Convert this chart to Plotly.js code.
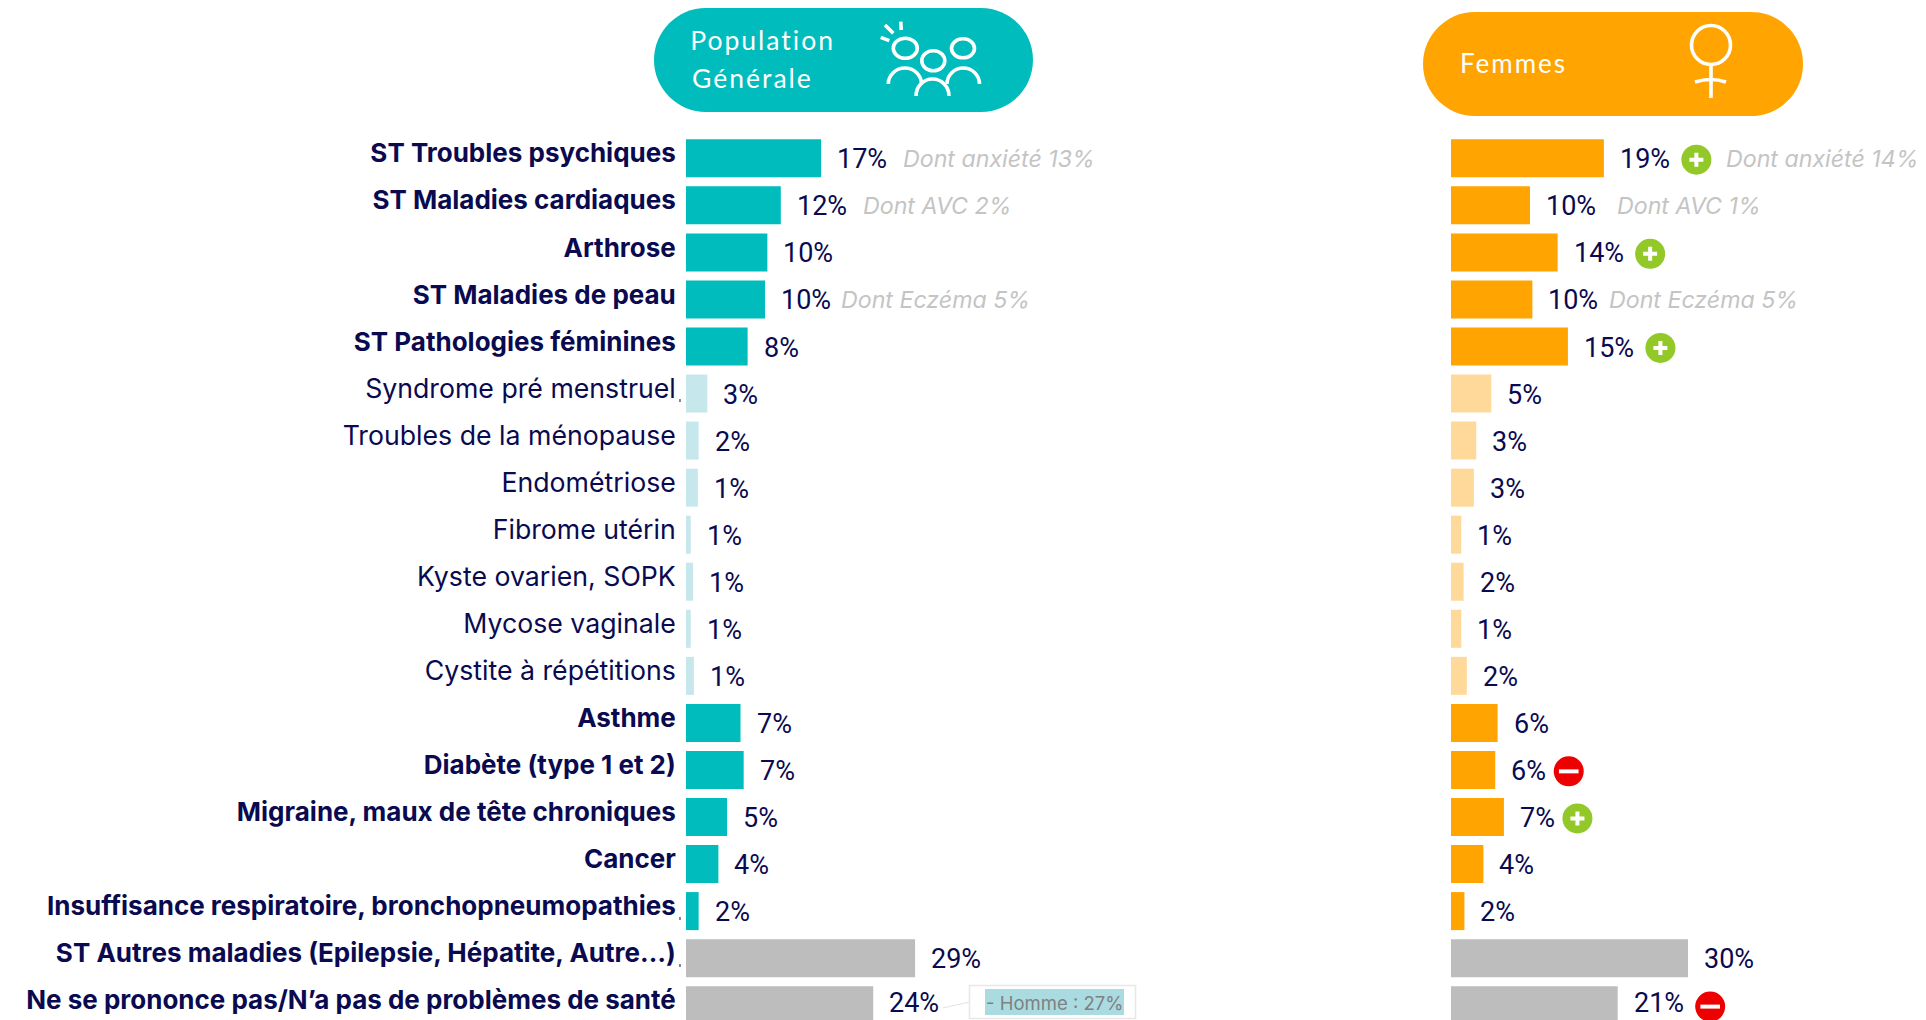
<!DOCTYPE html>
<html><head><meta charset="utf-8">
<script src="https://cdn.plot.ly/plotly-3.0.1.min.js"></script>
<style>html,body{margin:0;padding:0;background:#fff;overflow:hidden}#c{width:1926px;height:1020px}</style>
</head><body><div id="c"></div>
<script>
const categories = ["ST Troubles psychiques","ST Maladies cardiaques","Arthrose","ST Maladies de peau","ST Pathologies féminines","Syndrome pré menstruel","Troubles de la ménopause","Endométriose","Fibrome utérin","Kyste ovarien, SOPK","Mycose vaginale","Cystite à répétitions","Asthme","Diabète (type 1 et 2)","Migraine, maux de tête chroniques","Cancer","Insuffisance respiratoire, bronchopneumopathies","ST Autres maladies (Epilepsie, Hépatite, Autre…)","Ne se prononce pas/N’a pas de problèmes de santé"];
const groups = ["main","main","main","main","main","sub","sub","sub","sub","sub","sub","sub","main","main","main","main","main","other","other"];
const popValues = [17.1,12.0,10.3,10.0,7.8,2.7,1.6,1.5,0.6,0.9,0.6,1.0,6.9,7.3,5.2,4.1,1.6,29.0,23.7];
const popLabels = ["17%","12%","10%","10%","8%","3%","2%","1%","1%","1%","1%","1%","7%","7%","5%","4%","2%","29%","24%"];
const femValues = [19.35,10.0,13.5,10.3,14.8,5.1,3.2,2.9,1.3,1.6,1.3,2.0,5.9,5.6,6.7,4.1,1.7,30.0,21.1];
const femLabels = ["19%","10%","14%","10%","15%","5%","3%","3%","1%","2%","1%","2%","6%","6%","7%","4%","2%","30%","21%"];
const femBadges = ["+","","+","","+","","","","","","","","","-","+","","","","-"];
const popNotes = {0:"Dont anxiété 13%",1:"Dont AVC 2%",3:"Dont Eczéma 5%"};
const femNotes = {0:"Dont anxiété 14%",1:"Dont AVC 1%",3:"Dont Eczéma 5%"};
const headerPop = ["Population","Générale"];
const headerFem = "Femmes";
const homme = "- Homme : 27%";

const NAVY="#0a0a50", TEAL="#00bcbd", ORANGE="#ffa400", GREY="#bdbdbd";
const popColors={main:TEAL,sub:"#c6e7ec",other:GREY};
const femColors={main:ORANGE,sub:"#ffd999",other:GREY};
const FONT="Inter, sans-serif";
const W=1926,H=1020,SCALE=7.9,ROW=47.05,Y0=158.3;
const X1=686,X2=1451;
const idx=categories.map((_,i)=>i);
const px=x=>x/W, py=y=>1-y/H;
function P(cmds){return cmds.map(c=>c[0]+c.slice(1).map((v,i)=>i%2==0?px(v).toFixed(5)+",":py(v).toFixed(5)+" ").join("")).join("");}
function ell(cx,cy,rx,ry){const k=.5523;return P([["M",cx-rx,cy],["C",cx-rx,cy-k*ry,cx-k*rx,cy-ry,cx,cy-ry],["C",cx+k*rx,cy-ry,cx+rx,cy-k*ry,cx+rx,cy],["C",cx+rx,cy+k*ry,cx+k*rx,cy+ry,cx,cy+ry],["C",cx-k*rx,cy+ry,cx-rx,cy+k*ry,cx-rx,cy]])+"Z";}
function pill(x0,y0,x1,y1){const r=(y1-y0)/2,k=.5523*r,m=(y0+y1)/2;return P([["M",x0+r,y0],["L",x1-r,y0],["C",x1-r+k,y0,x1,m-k,x1,m],["C",x1,m+k,x1-r+k,y1,x1-r,y1],["L",x0+r,y1],["C",x0+r-k,y1,x0,m+k,x0,m],["C",x0,m-k,x0+r-k,y0,x0+r,y0]])+"Z";}
const fillShape=(path,color)=>({type:"path",xref:"paper",yref:"paper",path,fillcolor:color,line:{width:0}});
const stroke=(path,w=3.6,color="#fff")=>({type:"path",xref:"paper",yref:"paper",path,fillcolor:"rgba(0,0,0,0)",line:{color,width:w}});
const seg=(a,b,c,d,w,col)=>stroke(P([["M",a,b],["L",c,d]]),w,col);
const arc=(a,b,cx,cy,c,d)=>stroke(P([["M",a,b],["Q",cx,cy,c,d]]));
const arch=(x0,x1,yb,yt)=>{const m=(x0+x1)/2,k=.5523;return stroke(P([["M",x0,yb],["C",x0,yb-(yb-yt)*k,m-(m-x0)*k,yt,m,yt],["C",m+(x1-m)*k,yt,x1,yb-(yb-yt)*k,x1,yb]]));};

const shapes=[
 fillShape(pill(654,8,1033,112),TEAL),
 fillShape(pill(1423,12,1803,116),ORANGE),
 stroke(ell(905.3,48.3,12,10)),stroke(ell(933.3,60.7,11.5,10)),stroke(ell(963,48.3,11.5,9.5)),
 arch(888.3,921.5,84,68),arch(916,949,96,79),arch(947,979.5,84,68),
 seg(900.7,21.7,901.3,30),seg(885,25,893.3,33.3),seg(880.7,37.3,889.3,40.7),
 stroke(ell(1711,45,19.5,19.5)),seg(1711,64,1711,98),arc(1695,82,1711,77,1726,82),
 fillShape(P([["M",969,985],["L",1136,985],["L",1136,1019],["L",969,1019]])+"Z","#ffffff"),
 stroke(P([["M",969.5,985.5],["L",1135.5,985.5],["L",1135.5,1018.5],["L",969.5,1018.5]])+"Z",1.6,"#e8e8e8"),
 fillShape(P([["M",985,989],["L",1124,989],["L",1124,1015],["L",985,1015]])+"Z","#a9dbe0"),
 seg(943,1008,969,1002,1.2,"#e4e4e4"),
 seg(680,399,680,402,1,NAVY),seg(680,917,680,920,1,NAVY),seg(680,964,680,967,1,NAVY)
];

const annotations=[];
const lastRow=categories.length-1;
function valueLabels(values,labels,xr){values.forEach((v,i)=>annotations.push({x:v,y:i,xref:xr,yref:"y",text:labels[i],showarrow:false,xanchor:"left",yanchor:"middle",xshift:14,yshift:i===lastRow?2:-1,font:{family:"Roboto, sans-serif",size:27,color:NAVY}}));}
valueLabels(popValues,popLabels,"x");
valueLabels(femValues,femLabels,"x2");
const NOTE_OFF={x:{0:80,1:80,3:74},x2:{0:120,1:85,3:75}};
function notes(map,values,xr){Object.keys(map).forEach(k=>annotations.push({x:values[k],y:+k,xref:xr,yref:"y",text:"<i>"+map[k]+"</i>",showarrow:false,xanchor:"left",yanchor:"middle",xshift:NOTE_OFF[xr][k],yshift:-1,font:{family:FONT,size:23.2,color:"#c4c4c4"}}));}
notes(popNotes,popValues,"x");
notes(femNotes,femValues,"x2");
const head=(t,x,y,s)=>annotations.push({xref:"paper",yref:"paper",x:px(x),y:py(y),text:t,showarrow:false,xanchor:"left",yanchor:"middle",font:{family:"Lato, sans-serif",size:s,weight:400,color:"#fff"}});
head(headerPop[0],698,40,26.5);head(headerPop[1],698,78,26.5);head(headerFem,1464,63,26);
annotations.push({xref:"paper",yref:"paper",x:px(1054.5),y:py(1002.5),text:homme,showarrow:false,xanchor:"center",yanchor:"middle",font:{family:FONT,size:18.5,color:"#808080"}});

const bar=(vals,colors,xa,name)=>({type:"bar",orientation:"h",x:vals,y:idx,xaxis:xa,yaxis:"y",name,width:0.808,marker:{color:groups.map(g=>colors[g]),line:{width:0}},hoverinfo:"skip"});
const badgeOff=i=>femLabels[i].length==3?92.5:73.5;
const bi=s=>idx.filter(i=>femBadges[i]===s);
const bx=s=>bi(s).map(i=>femValues[i]+badgeOff(i)/SCALE);
const by=s=>bi(s).map(i=>i+0.03);
const mk=(s,symbol,size,color,line)=>({type:"scatter",mode:"markers",x:bx(s),y:by(s),xaxis:"x2",yaxis:"y",cliponaxis:false,hoverinfo:"skip",marker:{symbol,size,color,line}});
const data=[
 bar(popValues,popColors,"x","Population Générale"),
 bar(femValues,femColors,"x2","Femmes"),
 mk("+","circle",30,"#93c829",{width:0}),
 mk("-","circle",30,"#ee0000",{width:0}),
 mk("+","cross-thin",10,"#fff",{width:4,color:"#fff"}),
 mk("-","line-ew",14,"#fff",{width:4,color:"#fff"})
];
const xbase={showgrid:false,zeroline:false,showticklabels:false,ticks:"",showline:false,fixedrange:true,anchor:"y"};
const layout={
 width:W,height:H,margin:{l:0,r:0,t:0,b:0,pad:0},paper_bgcolor:"#fff",plot_bgcolor:"rgba(0,0,0,0)",showlegend:false,barmode:"overlay",
 font:{family:FONT,color:NAVY},
 xaxis:{...xbase,domain:[X1/W,1400/W],range:[0,(1400-X1)/SCALE]},
 xaxis2:{...xbase,domain:[X2/W,1],range:[0,(W-X2)/SCALE]},
 yaxis:{domain:[0,1],range:[(H-Y0)/ROW,-Y0/ROW],tickmode:"array",tickvals:idx,
   ticktext:categories.map((c,i)=>groups[i]==="sub"?'<span style="font-size:26.7px">'+c+'</span>':"<b>"+c+"</b>"),
   ticklabelshift:5,tickfont:{family:FONT,size:26,color:NAVY},ticks:"outside",ticklen:4,tickcolor:"rgba(0,0,0,0)",showgrid:false,zeroline:false,showline:false,anchor:"x",fixedrange:true,automargin:false},
 shapes,annotations
};
Plotly.newPlot("c",data,layout,{displayModeBar:false,staticPlot:true}).then(()=>{
 document.querySelectorAll(".annotation text").forEach(t=>{const s=t.textContent;if(headerPop.includes(s)||s===headerFem)t.style.letterSpacing="2px";});
});
</script></body></html>
